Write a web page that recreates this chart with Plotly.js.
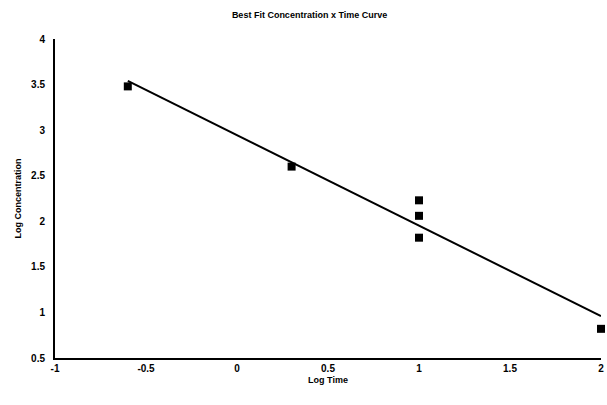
<!DOCTYPE html>
<html>
<head>
<meta charset="utf-8">
<script src="https://cdn.plot.ly/plotly-3.0.1.min.js"></script>
<style>html,body{margin:0;padding:0;background:#fff;}#chart{width:607px;height:405px;}</style>
</head>
<body>
<div id="chart"></div>
<script>
const logTime = [-0.6, 0.3, 1.0, 1.0, 1.0, 2.0];
const logConc = [3.48, 2.6, 2.23, 2.06, 1.82, 0.82];
const fitX = [-0.6, 2.0];
const fitY = [3.54, 0.96];
const xTicks = [-1, -0.5, 0, 0.5, 1, 1.5, 2];
const yTicks = [0.5, 1, 1.5, 2, 2.5, 3, 3.5, 4];

const font = {family: 'Liberation Sans, Arial, sans-serif', color: '#000'};

const traces = [
  {x: fitX, y: fitY, mode: 'lines', type: 'scatter',
   line: {color: '#000', width: 2}, cliponaxis: false, hoverinfo: 'skip'},
  {x: logTime, y: logConc, mode: 'markers', type: 'scatter',
   marker: {symbol: 'square', size: 8, color: '#000'}, cliponaxis: false}
];

const layout = {
  width: 607, height: 405,
  margin: {l: 55, r: 6, t: 39, b: 47},
  paper_bgcolor: '#fff', plot_bgcolor: '#fff',
  showlegend: false,
  title: {text: '<b>Best Fit Concentration x Time Curve</b>', x: 0.51, xanchor: 'center',
          y: 0.963, yanchor: 'middle', font: Object.assign({size: 9}, font)},
  xaxis: {range: [-1, 2], tickvals: xTicks, ticktext: xTicks.map(v => '<b>' + v + '</b>'), showgrid: false,
          zeroline: false, showline: true, linecolor: '#000', linewidth: 2, ticks: '',
          tickfont: Object.assign({size: 10}, font),
          title: {text: '<b>Log Time</b>', font: Object.assign({size: 9}, font), standoff: 4}},
  yaxis: {range: [0.5, 4], tickvals: yTicks, ticktext: yTicks.map(v => '<b>' + v + '</b>'), showgrid: false,
          zeroline: false, showline: true, linecolor: '#000', linewidth: 2, ticks: '',
          ticklabelstandoff: 6,
          tickfont: Object.assign({size: 10}, font),
          title: {text: '<b>Log Concentration</b>', font: Object.assign({size: 9}, font), standoff: 8}}
};

Plotly.newPlot('chart', traces, layout, {displayModeBar: false, staticPlot: true});
</script>
</body>
</html>
